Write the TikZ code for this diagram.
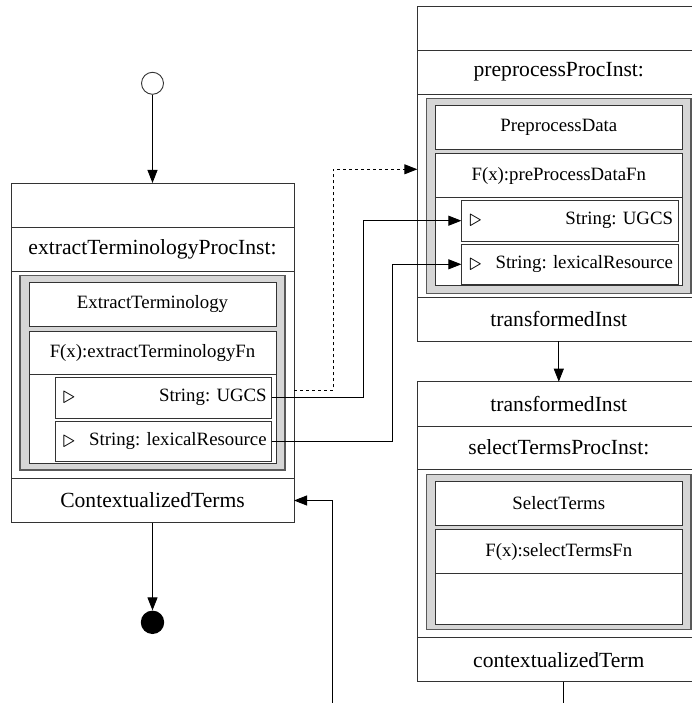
\documentclass[tikz,border=0pt]{standalone}
\usepackage{fontspec}
\setmainfont{Liberation Serif}
\usetikzlibrary{arrows.meta,calc}
\newcommand{\ptri}{\hspace{3pt}\raisebox{-1.5pt}{\fontsize{24}{24}\selectfont$\triangleright$}}

\begin{document}
\frenchspacing
\begin{tikzpicture}[x=1pt,y=-1pt,
    lbl/.style={font=\fontsize{21.6}{26}\selectfont},
    sml/.style={font=\fontsize{18.8}{22}\selectfont},
    cell/.style={draw=black!80,fill=white,inner sep=0pt,outer sep=0pt,line width=0.9pt},
    frame/.style={draw=black!65,fill=black!16,inner sep=0pt,outer sep=0pt,line width=1.6pt},
    param/.style={cell,sml,minimum height=40.7pt,text width=206.7pt,inner xsep=5pt,align=left},
    conn/.style={line width=0.9pt,-{Triangle[length=13pt,width=10pt]}}]
    \useasboundingbox (0,0) rectangle (691,703);

    % start / stop
    \node[circle,draw=black!80,line width=0.9pt,minimum size=22pt,inner sep=0pt] (start) at (152.5,83.3) {};
    \node[circle,fill=black,minimum size=23.4pt,inner sep=0pt] (stop) at (152.5,622.3) {};

    % extractTerminology
    \node[cell,minimum width=283pt,minimum height=339.7pt] (LBox) at (152.5,352.85) {};
    \node[cell,minimum width=283pt,minimum height=44pt] (LHead) at (152.5,205) {};
    \node[cell,lbl,minimum width=283pt,minimum height=44pt] (LName) at (152.5,249) {extractTerminologyProcInst:};
    \node[frame,minimum width=265pt,minimum height=194.7pt] (LFrame) at (152.5,372.7) {};
    \node[cell,sml,minimum width=247pt,minimum height=43.7pt] (LAct) at (152.5,304.2) {ExtractTerminology};
    \node[cell,minimum width=247pt,minimum height=132.3pt] (LFnBox) at (152.5,397.15) {};
    \node[cell,sml,minimum width=247pt,minimum height=43.3pt] (LFn) at (152.5,352.7) {F(x):extractTerminologyFn};
    \node[param] (LUgcs) at (163.3,397.7) {\ptri\hspace{\fill}String: UGCS};
    \node[param,minimum height=39.3pt] (LLex) at (163.3,441.3) {\ptri\hspace{\fill}String: lexicalResource};
    \node[cell,lbl,minimum width=283pt,minimum height=44.4pt] (LOut) at (152.5,500.5) {ContextualizedTerms};

    % preprocess
    \node[cell,minimum width=283pt,minimum height=335pt] (R1Box) at (558.8,173.5) {};
    \node[cell,minimum width=283pt,minimum height=44pt] (R1Head) at (558.8,28) {};
    \node[cell,lbl,minimum width=283pt,minimum height=44pt] (R1Name) at (558.8,72) {preprocessProcInst:};
    \node[frame,minimum width=264.7pt,minimum height=194.6pt] (R1Frame) at (558.8,196) {};
    \node[cell,sml,minimum width=247.7pt,minimum height=44pt] (R1Act) at (558.8,127.3) {PreprocessData};
    \node[cell,minimum width=247.7pt,minimum height=132pt] (R1FnBox) at (558.8,219.7) {};
    \node[cell,sml,minimum width=247.7pt,minimum height=44pt] (R1Fn) at (558.8,175.7) {F(x):preProcessDataFn};
    \node[param] (RUgcs) at (569.7,220.7) {\ptri\hspace{\fill}String: UGCS};
    \node[param,minimum height=40pt] (RLex) at (569.7,264.3) {\ptri\hspace{\fill}String: lexicalResource};
    \node[cell,lbl,minimum width=283pt,minimum height=43.3pt] (R1Out) at (558.8,319.3) {transformedInst};

    % selectTerms
    \node[cell,minimum width=283pt,minimum height=300pt] (R2Box) at (558.8,531.7) {};
    \node[cell,lbl,minimum width=283pt,minimum height=44.3pt] (R2In) at (558.8,403.85) {transformedInst};
    \node[cell,lbl,minimum width=283pt,minimum height=43.3pt] (R2Name) at (558.8,447.65) {selectTermsProcInst:};
    \node[frame,minimum width=264.7pt,minimum height=155pt] (R2Frame) at (558.8,551.8) {};
    \node[cell,sml,minimum width=247.7pt,minimum height=44pt] (R2Act) at (558.8,503) {SelectTerms};
    \node[cell,minimum width=247.7pt,minimum height=94.6pt] (R2FnBox) at (558.8,577) {};
    \node[cell,sml,minimum width=247.7pt,minimum height=43.6pt] (R2Fn) at (558.8,551.5) {F(x):selectTermsFn};
    \node[cell,lbl,minimum width=283pt,minimum height=44pt] (R2Out) at (558.8,659.7) {contextualizedTerm};

    \coordinate (R2Exit) at (563.3,703);
    \coordinate (backIn) at (332.3,703);

    % connectors
    \draw[conn] (start) -- (LBox.north);
    \draw[conn] (LBox.south) -- (stop);
    \draw[conn,dashed] ($(LBox.east |- LUgcs)+(0,-7.7)$) -- ++(39.3,0) |- ($(R1Box.west)+(0,-4.2)$);
    \draw[conn] (LUgcs.east) -- ++(91.6,0) |- (RUgcs.west);
    \draw[conn] (LLex.east) -- ++(120.6,0) |- (RLex.west);
    \draw[conn] (R1Box.south) -- (R2Box.north);
    \draw[line width=0.9pt] ($(R2Box.south)+(4.5,0)$) -- (R2Exit);
    \draw[conn] (backIn) |- (LOut.east);
\end{tikzpicture}
\end{document}
